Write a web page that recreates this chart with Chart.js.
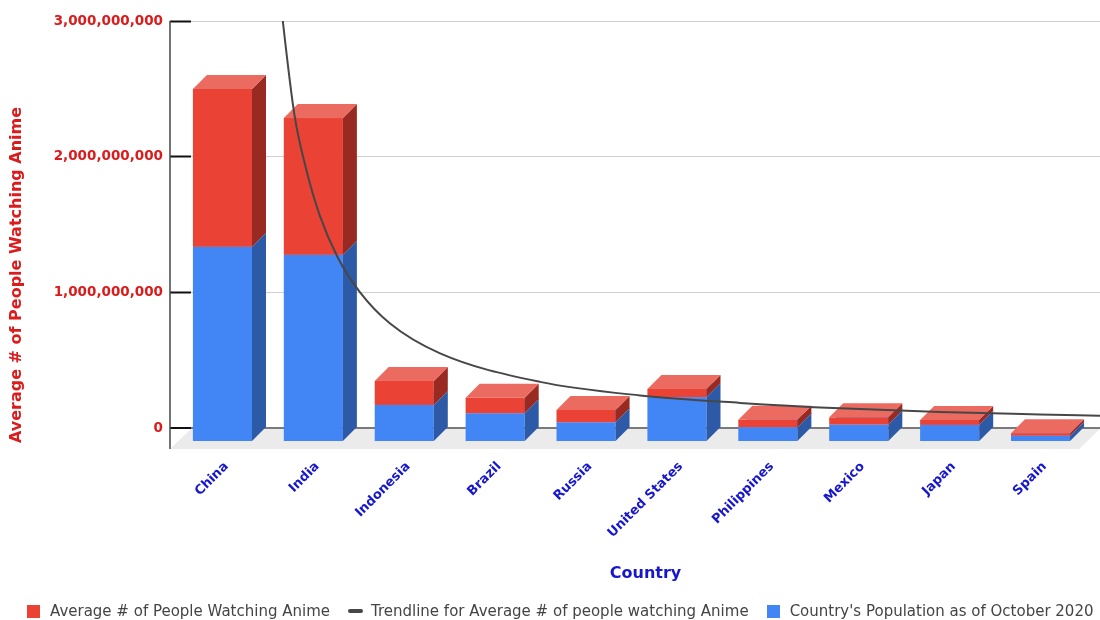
<!DOCTYPE html>
<html>
<head>
<meta charset="utf-8">
<title>Anime viewers by country</title>
<script src="https://cdn.jsdelivr.net/npm/chart.js@4.4.1/dist/chart.umd.min.js"></script>
<style>
  body { margin: 0; background: #fff; }
  #wrap { position: relative; width: 1100px; height: 620px; }
  #legend {
    position: absolute; left: 27px; top: 602px;
    display: flex; align-items: center; gap: 18px;
    font: 15px 'DejaVu Sans', sans-serif; color: #444; white-space: nowrap;
  }
  .item { display: flex; align-items: center; }
  .box { width: 13px; height: 13px; margin-right: 10px; }
  .dash { width: 15px; height: 4px; border-radius: 2px; margin-right: 8px; }
</style>
</head>
<body>
<div id="wrap">
  <canvas id="chart" width="1100" height="620"></canvas>
  <div id="legend"></div>
</div>
<script>
const countries = ['China', 'India', 'Indonesia', 'Brazil', 'Russia', 'United States', 'Philippines', 'Mexico', 'Japan', 'Spain'];
const population = [1439000000, 1380000000, 273500000, 212600000, 145900000, 331000000, 109600000, 128900000, 126500000, 46800000];
const animeViewers = [1163000000, 1008000000, 176000000, 114000000, 90000000, 60000000, 55000000, 53000000, 36000000, 18000000];
// trendline samples; x is the position along the country axis (0 = China, 9 = Spain)
const trendX = [0.37, 0.51, 0.64, 0.77, 0.92, 1.12, 1.36, 1.69, 2.24, 3.34, 4.44, 5.54, 6.64, 7.74, 8.84, 9.5];
const trendY = [3900000000, 3000000000, 2300000000, 1900000000, 1560000000, 1250000000, 1000000000, 770000000,
                550000000, 340000000, 240000000, 185000000, 145000000, 118000000, 100000000, 90000000];
const yTicks = [0, 1000000000, 2000000000, 3000000000];

const RED_TEXT  = '#dc1c1c';
const BLUE_TEXT = '#1616cc';

// front / top / side faces of the 3d columns
const shades = {
  blue: { front: '#4285f4', top: '#6d9ef5', side: '#2d5aa6' },
  red:  { front: '#ea4335', top: '#ec6b61', side: '#982a21' }
};

const depth = 14;      // column depth
const floorDepth = 21; // depth of the grey floor

function drawBox(ctx, left, right, top, bottom, c) {
  const d = depth;
  ctx.fillStyle = c.front;
  ctx.fillRect(left - d, top + d, right - left, bottom - top);

  ctx.fillStyle = c.side;
  ctx.beginPath();
  ctx.moveTo(right - d, top + d);
  ctx.lineTo(right, top);
  ctx.lineTo(right, bottom);
  ctx.lineTo(right - d, bottom + d);
  ctx.closePath();
  ctx.fill();

  ctx.fillStyle = c.top;
  ctx.beginPath();
  ctx.moveTo(left - d, top + d);
  ctx.lineTo(left, top);
  ctx.lineTo(right, top);
  ctx.lineTo(right - d, top + d);
  ctx.closePath();
  ctx.fill();
}

const bars3d = {
  id: 'bars3d',
  beforeDatasetsDraw(chart) {
    const ctx = chart.ctx;
    const a = chart.chartArea;
    const zero = chart.scales.y.getPixelForValue(0);

    ctx.save();
    // floor
    ctx.fillStyle = '#ebebeb';
    ctx.beginPath();
    ctx.moveTo(a.left, zero + 1);
    ctx.lineTo(a.right, zero + 1);
    ctx.lineTo(a.right - floorDepth, zero + floorDepth);
    ctx.lineTo(a.left - floorDepth, zero + floorDepth);
    ctx.closePath();
    ctx.fill();

    // vertical axis
    ctx.strokeStyle = '#444';
    ctx.lineWidth = 1.5;
    ctx.beginPath();
    ctx.moveTo(a.left - floorDepth, a.top);
    ctx.lineTo(a.left - floorDepth, zero + floorDepth);
    ctx.stroke();

    // columns, bottom segment first
    const stackOrder = [0, 1];
    countries.forEach((_, i) => {
      stackOrder.forEach(di => {
        const ds = chart.data.datasets[di];
        const el = chart.getDatasetMeta(di).data[i];
        const p = el.getProps(['x', 'y', 'base', 'width'], true);
        drawBox(ctx, p.x - p.width / 2, p.x + p.width / 2, p.y, p.base, shades[ds.shade]);
      });
    });
    ctx.restore();
  },
  beforeDatasetDraw(chart, args) {
    // flat bars are replaced by the boxes above
    if (args.meta.type === 'bar') return false;
  },
  afterDraw(chart) {
    const ctx = chart.ctx;
    ctx.save();
    ctx.translate(17, 275);
    ctx.rotate(-Math.PI / 2);
    ctx.font = 'bold 16px "DejaVu Sans"';
    ctx.fillStyle = RED_TEXT;
    ctx.textAlign = 'center';
    ctx.textBaseline = 'middle';
    ctx.fillText('Average # of People Watching Anime', 0, 0);
    ctx.restore();
  }
};

Chart.defaults.font.family = "'DejaVu Sans', sans-serif";

const chart = new Chart(document.getElementById('chart'), {
  type: 'bar',
  data: {
    labels: countries,
    datasets: [{
      label: "Country's Population as of October 2020",
      data: population,
      backgroundColor: shades.blue.front,
      shade: 'blue',
      stack: 'total',
      grouped: false,
      barPercentage: 0.65,
      categoryPercentage: 1
    }, {
      label: 'Average # of People Watching Anime',
      data: animeViewers,
      backgroundColor: shades.red.front,
      shade: 'red',
      stack: 'total',
      grouped: false,
      barPercentage: 0.65,
      categoryPercentage: 1
    }, {
      type: 'line',
      label: 'Trendline for Average # of people watching Anime',
      data: trendX.map((x, i) => ({ x: x, y: trendY[i] })),
      xAxisID: 'xTrend',
      stack: 'trend',
      borderColor: '#474747',
      borderWidth: 2,
      pointRadius: 0,
      cubicInterpolationMode: 'monotone',
      order: -1
    }]
  },
  options: {
    responsive: false,
    animation: false,
    layout: { padding: { top: 21, left: 0, right: 0, bottom: 0 } },
    plugins: {
      legend: { display: false },
      tooltip: { enabled: false }
    },
    scales: {
      x: {
        stacked: true,
        grid: { display: false, drawTicks: false },
        border: { display: false },
        ticks: {
          color: BLUE_TEXT,
          font: { weight: 'bold', size: 13 },
          minRotation: 45,
          maxRotation: 45,
          autoSkip: false,
          padding: 31,
          labelOffset: -10
        },
        title: {
          display: true,
          text: 'Country',
          color: BLUE_TEXT,
          font: { weight: 'bold', size: 16 },
          padding: { top: 0, bottom: 37 }
        },
        afterFit: scale => { scale.height = 192; }
      },
      xTrend: {
        type: 'linear',
        position: 'bottom',
        min: -0.5,
        max: countries.length - 0.5,
        offset: false,
        stacked: false,
        display: false
      },
      y: {
        stacked: true,
        min: 0,
        max: 3000000000,
        afterBuildTicks: scale => { scale.ticks = yTicks.map(v => ({ value: v })); },
        grid: {
          color: c => (c.tick && c.tick.value === 0) ? '#7a7a7a' : '#d0d0d0',
          lineWidth: c => (c.tick && c.tick.value === 0) ? 2 : 1,
          tickColor: '#111',
          tickLength: 21,
          tickWidth: 2
        },
        border: { display: false },
        ticks: {
          color: RED_TEXT,
          font: { weight: 'bold', size: 13.5 },
          padding: 7,
          callback: v => v.toLocaleString('en-US')
        },
        afterFit: scale => { scale.width = 191; }
      }
    }
  },
  plugins: [bars3d]
});

// legend in the same order as the series are listed under the chart
const legendOrder = [1, 2, 0];
const legendEl = document.getElementById('legend');
legendOrder.forEach(i => {
  const ds = chart.data.datasets[i];
  const item = document.createElement('div');
  item.className = 'item';
  const mark = document.createElement('span');
  mark.className = ds.type === 'line' ? 'dash' : 'box';
  mark.style.background = ds.type === 'line' ? ds.borderColor : ds.backgroundColor;
  const text = document.createElement('span');
  text.textContent = ds.label;
  item.appendChild(mark);
  item.appendChild(text);
  legendEl.appendChild(item);
});
</script>
</body>
</html>
